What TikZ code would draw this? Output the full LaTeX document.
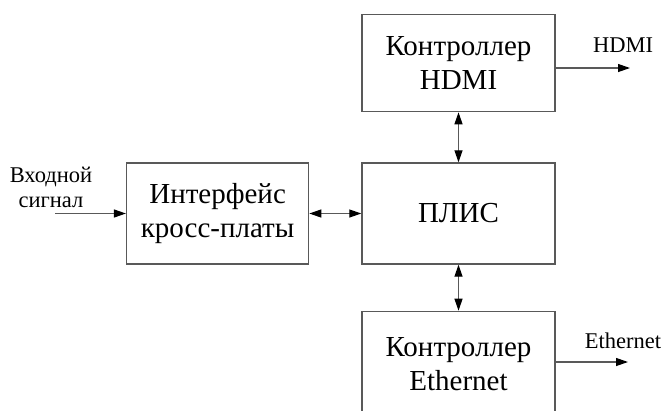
\documentclass[tikz,border=0pt]{standalone}
\usepackage{fontspec}
\setmainfont{Liberation Serif}
\usetikzlibrary{arrows.meta,positioning}

\begin{document}
\begin{tikzpicture}[
  x=1pt, y=-1pt,
  font=\fontsize{29}{34}\selectfont,
  block/.style={draw=black!65, line width=1.4pt, align=center, minimum width=193pt, minimum height=101pt, inner sep=2pt},
  lbl/.style={font=\fontsize{22.5}{25}\selectfont, align=center, inner sep=0pt},
  flow/.style={-{Triangle[length=12pt,width=8pt,color=black]}, draw=black!65, line width=1.2pt},
  both/.style={{Triangle[length=12pt,width=8pt,color=black]}-{Triangle[length=12pt,width=8pt,color=black]}, draw=black!65, line width=1.2pt}
]
\useasboundingbox (0,0) rectangle (663,410);
\clip (0,0) rectangle (663,410);
% ---- blocks ----
\node[block] (fpga) at (458.5,213.5) {ПЛИС};
\node[block, minimum height=97pt, above=50pt of fpga] (hdmi) {Контроллер\\HDMI};
\node[block, minimum height=106pt, below=46pt of fpga] (eth) {Контроллер\\Ethernet};
\node[block, minimum width=182pt, left=52pt of fpga] (iface) {Интерфейс\\кросс-платы};

% ---- free ends ----
\coordinate (in) at (55,213.5);
\coordinate (hdmiout) at (630,68);
\coordinate (ethout) at (628,362);

% ---- labels ----
\node[lbl] (inlbl) at (51,187) {Входной\\сигнал};
\node[lbl] (hdmilbl) at (623,45) {HDMI};
\node[lbl] (ethlbl) at (623,341) {Ethernet};

% edges
\draw[flow] (in) -- (iface.west);
\draw[both] (iface.east) -- (fpga.west);
\draw[both] (fpga.north) -- (hdmi.south);
\draw[both] (fpga.south) -- (eth.north);
\draw[flow] (hdmi.east |- hdmiout) -- (hdmiout);
\draw[flow] (eth.east |- ethout) -- (ethout);
\end{tikzpicture}
\end{document}
